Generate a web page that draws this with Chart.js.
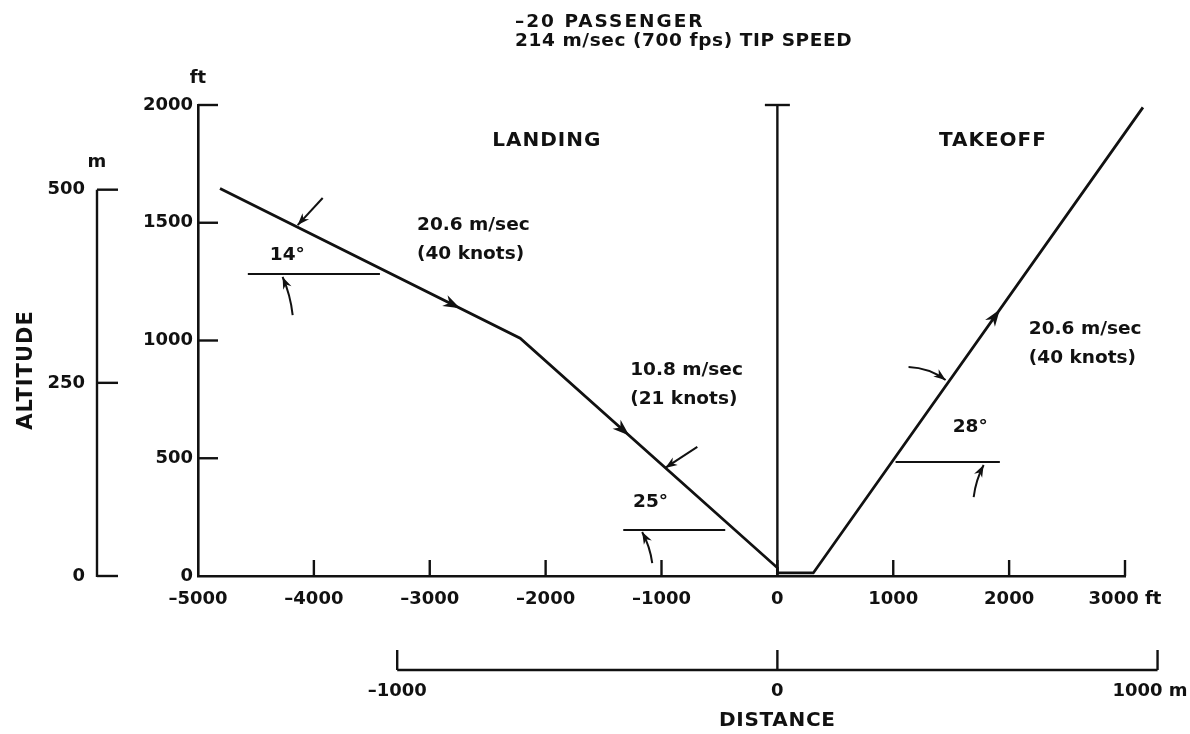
<!DOCTYPE html>
<html>
<head>
<meta charset="utf-8">
<title>-20 passenger flight profile</title>
<script src="https://cdn.jsdelivr.net/npm/chart.js@4.4.1/dist/chart.umd.min.js"></script>
<style>
  html, body { margin: 0; padding: 0; background: #fff; }
  #wrap { width: 1190px; height: 734px; }
</style>
</head>
<body>
<div id="wrap"><canvas id="profileChart"></canvas></div>
<script>
// flight path: distance (ft) and altitude (ft)
const pathFt  = [-4810, -2220, 0, 0, 310, 3155];
const pathAlt = [1645, 1010, 35, 13, 13, 1990];

// touchdown marker at zero distance
const markerFt  = [0, 0];
const markerAlt = [0, 2000];

// horizontal reference lines the angles are measured from
const refStartFt = [-4570, -1330, 1020];
const refEndFt   = [-3430, -450, 1920];
const refAlt     = [1282, 195, 484];

// axis ticks
const ftDistTicks = [-5000, -4000, -3000, -2000, -1000, 0, 1000, 2000, 3000];
const ftAltTicks  = [0, 500, 1000, 1500, 2000];
const mDistTicks  = [-1000, 0, 1000];
const mAltTicks   = [0, 250, 500];

// direction arrowheads on the path (distance, path segment)
const pathArrowFt  = [-2800, -1330, 1880];
const pathArrowSeg = [0, 1, 4];

// angle callout arrows (from -> to, data units)
const pointerFromFt  = [-3924, -4183, -691, -1080, 1132, 1694];
const pointerFromAlt = [1605, 1108, 548, 55, 887, 335];
const pointerToFt    = [-4140, -4270, -968, -1167, 1452, 1780];
const pointerToAlt   = [1490, 1270, 459, 187, 832, 471];

// labels
const angleText = ['14°', '25°', '28°'];
const angleFt   = [-4380, -1245, 1513];
const angleAlt  = [1363, 314, 633];

const speedText = [['20.6 m/sec', '(40 knots)'], ['10.8 m/sec', '(21 knots)'], ['20.6 m/sec', '(40 knots)']];
const speedFt   = [-3110, -1270, 2170];
const speedAlt  = [1490, 875, 1049];

const phaseText = ['LANDING', 'TAKEOFF'];
const phaseFt   = [-1990, 1860];
const phaseAlt  = [1850, 1850];

const FT_TO_M = 0.3048;
const INK = '#111';
const FONT = '"DejaVu Sans", sans-serif';
const pointerBend = [0, 3, 0, 3, -6, -3];

function setFont(ctx, size, spacing) {
  ctx.font = 'bold ' + size + 'px ' + FONT;
  ctx.letterSpacing = (spacing || 0) + 'px';
}
function seg(ctx, x1, y1, x2, y2) {
  ctx.beginPath(); ctx.moveTo(x1, y1); ctx.lineTo(x2, y2); ctx.stroke();
}
function head(ctx, tx, ty, ang, len, half) {
  const c = Math.cos(ang), s = Math.sin(ang);
  ctx.beginPath();
  ctx.moveTo(tx, ty);
  ctx.lineTo(tx - len * c - half * s, ty - len * s + half * c);
  ctx.lineTo(tx - len * 0.7 * c, ty - len * 0.7 * s);
  ctx.lineTo(tx - len * c + half * s, ty - len * s - half * c);
  ctx.closePath();
  ctx.fill();
}
const dash = v => String(v).replace('-', '\u2013');

const drawingPlugin = {
  id: 'drawing',
  afterDatasetsDraw(chart) {
    const { ctx, chartArea: a } = chart;
    const { x, y, xm, ym } = chart.scales;
    ctx.save();
    ctx.strokeStyle = INK;
    ctx.fillStyle = INK;
    ctx.lineWidth = 2.4;
    ctx.textBaseline = 'middle';

    // ft axes: tick marks point inward
    ftDistTicks.forEach(v => {
      if (v === x.min) return;
      const px = x.getPixelForValue(v);
      seg(ctx, px, a.bottom, px, a.bottom - 16);
    });
    ftAltTicks.forEach(v => {
      if (v === y.min) return;
      const py = y.getPixelForValue(v);
      seg(ctx, a.left, py, a.left + 20, py);
    });
    setFont(ctx, 18);
    ctx.textAlign = 'center';
    ctx.fillText('ft', a.left, a.top - 27);

    // metric altitude scale
    const mx = a.left - 101;
    seg(ctx, mx, ym.getPixelForValue(0) + 1, mx, ym.getPixelForValue(mAltTicks[mAltTicks.length - 1]));
    ctx.textAlign = 'right';
    mAltTicks.forEach(v => {
      const py = ym.getPixelForValue(v);
      seg(ctx, mx, py, mx + 21, py);
      ctx.fillText(String(v), mx - 12, py);
    });
    ctx.textAlign = 'center';
    ctx.fillText('m', mx, ym.getPixelForValue(500) - 27);

    // metric distance scale
    const my = a.bottom + 94;
    seg(ctx, xm.getPixelForValue(mDistTicks[0]), my, xm.getPixelForValue(mDistTicks[mDistTicks.length - 1]), my);
    mDistTicks.forEach((v, i) => {
      const px = xm.getPixelForValue(v);
      seg(ctx, px, my, px, my - 20);
      if (i === mDistTicks.length - 1) {
        ctx.textAlign = 'right';
        ctx.fillText(v + ' m', px + 30, my + 21);
        ctx.textAlign = 'center';
      } else {
        ctx.fillText(dash(v), px, my + 21);
      }
    });

    // axis titles
    setFont(ctx, 20, 0.7);
    ctx.fillText('DISTANCE', x.getPixelForValue(0), a.bottom + 145);
    ctx.save();
    ctx.translate(27, 370);
    ctx.rotate(-Math.PI / 2);
    setFont(ctx, 21, 1);
    ctx.fillText('ALTITUDE', 0, 0);
    ctx.restore();

    // heading
    ctx.textAlign = 'left';
    setFont(ctx, 18.5, 2);
    ctx.fillText('\u201320 PASSENGER', 515, 22);
    setFont(ctx, 18.5, 0.6);
    ctx.fillText('214 m/sec (700 fps) TIP SPEED', 515, 41);

    // direction arrowheads on the path
    pathArrowFt.forEach((ft, i) => {
      const s = pathArrowSeg[i];
      const p0x = x.getPixelForValue(pathFt[s]), p0y = y.getPixelForValue(pathAlt[s]);
      const p1x = x.getPixelForValue(pathFt[s + 1]), p1y = y.getPixelForValue(pathAlt[s + 1]);
      const px = x.getPixelForValue(ft);
      const t = (px - p0x) / (p1x - p0x);
      const py = p0y + t * (p1y - p0y);
      const ang = Math.atan2(p1y - p0y, p1x - p0x);
      head(ctx, px + 8 * Math.cos(ang), py + 8 * Math.sin(ang), ang, 17, 6);
    });

    // angle callout arrows
    ctx.lineWidth = 2;
    pointerFromFt.forEach((ft, i) => {
      const fx = x.getPixelForValue(ft), fy = y.getPixelForValue(pointerFromAlt[i]);
      const tx = x.getPixelForValue(pointerToFt[i]), ty = y.getPixelForValue(pointerToAlt[i]);
      const dx = tx - fx, dy = ty - fy, L = Math.hypot(dx, dy);
      const cx = (fx + tx) / 2 - dy / L * pointerBend[i];
      const cy = (fy + ty) / 2 + dx / L * pointerBend[i];
      ctx.beginPath();
      ctx.moveTo(fx, fy);
      ctx.quadraticCurveTo(cx, cy, tx, ty);
      ctx.stroke();
      head(ctx, tx, ty, Math.atan2(ty - cy, tx - cx), 12, 4.5);
    });

    // labels
    ctx.textAlign = 'left';
    setFont(ctx, 18.5);
    angleText.forEach((t, i) => {
      ctx.fillText(t, x.getPixelForValue(angleFt[i]), y.getPixelForValue(angleAlt[i]));
    });
    speedText.forEach((lines, i) => {
      const px = x.getPixelForValue(speedFt[i]), py = y.getPixelForValue(speedAlt[i]);
      lines.forEach((t, k) => ctx.fillText(t, px, py + k * 29));
    });
    ctx.textAlign = 'center';
    setFont(ctx, 20, 1);
    phaseText.forEach((t, i) => {
      ctx.fillText(t, x.getPixelForValue(phaseFt[i]), y.getPixelForValue(phaseAlt[i]));
    });

    ctx.restore();
  }
};

const pts = (xs, ys) => xs.map((v, i) => ({ x: v, y: ys[i] }));
const refSets = refAlt.map((alt, i) => ({
  label: 'reference ' + angleText[i],
  data: pts([refStartFt[i], refEndFt[i]], [alt, alt]),
  borderColor: INK,
  backgroundColor: INK,
  borderWidth: 2
}));

const tickFont = { family: 'DejaVu Sans', size: 18, weight: 'bold' };

new Chart(document.getElementById('profileChart'), {
  type: 'scatter',
  data: {
    datasets: [
      {
        label: 'flight path',
        data: pts(pathFt, pathAlt),
        borderColor: INK,
        backgroundColor: INK,
        borderWidth: 2.8
      },
      {
        label: 'touchdown',
        data: pts(markerFt, markerAlt),
        borderColor: INK,
        backgroundColor: INK,
        borderWidth: 2.4,
        pointRadius: [0, 12.5],
        pointStyle: 'line',
        pointBorderWidth: 2.4,
        pointBorderColor: INK
      },
      ...refSets
    ]
  },
  options: {
    responsive: true,
    maintainAspectRatio: false,
    animation: false,
    events: [],
    datasets: {
      scatter: { showLine: true, pointRadius: 0, clip: false, tension: 0 }
    },
    layout: { padding: { top: 105, right: 65, bottom: 118, left: 0 } },
    plugins: { legend: { display: false }, tooltip: { enabled: false } },
    scales: {
      x: {
        type: 'linear',
        min: ftDistTicks[0],
        max: ftDistTicks[ftDistTicks.length - 1],
        afterBuildTicks: s => { s.ticks = ftDistTicks.map(v => ({ value: v })); },
        afterFit: s => { s.height = 40; },
        grid: { display: false, drawTicks: false },
        border: { color: INK, width: 2.6 },
        ticks: {
          color: INK, font: tickFont, padding: 13, maxRotation: 0, autoSkip: false,
          callback: v => v === 3000 ? '3000 ft' : dash(v)
        }
      },
      y: {
        min: ftAltTicks[0],
        max: ftAltTicks[ftAltTicks.length - 1],
        afterBuildTicks: s => { s.ticks = ftAltTicks.map(v => ({ value: v })); },
        afterFit: s => { s.width = 198; },
        grid: { display: false, drawTicks: false },
        border: { color: INK, width: 2.6 },
        ticks: { color: INK, font: tickFont, padding: 5, callback: v => String(v) }
      },
      xm: {
        type: 'linear', axis: 'x', position: 'bottom', display: false,
        min: ftDistTicks[0] * FT_TO_M, max: ftDistTicks[ftDistTicks.length - 1] * FT_TO_M
      },
      ym: {
        type: 'linear', axis: 'y', position: 'left', display: false,
        min: 0, max: ftAltTicks[ftAltTicks.length - 1] * FT_TO_M
      }
    }
  },
  plugins: [drawingPlugin]
});
</script>
</body>
</html>
